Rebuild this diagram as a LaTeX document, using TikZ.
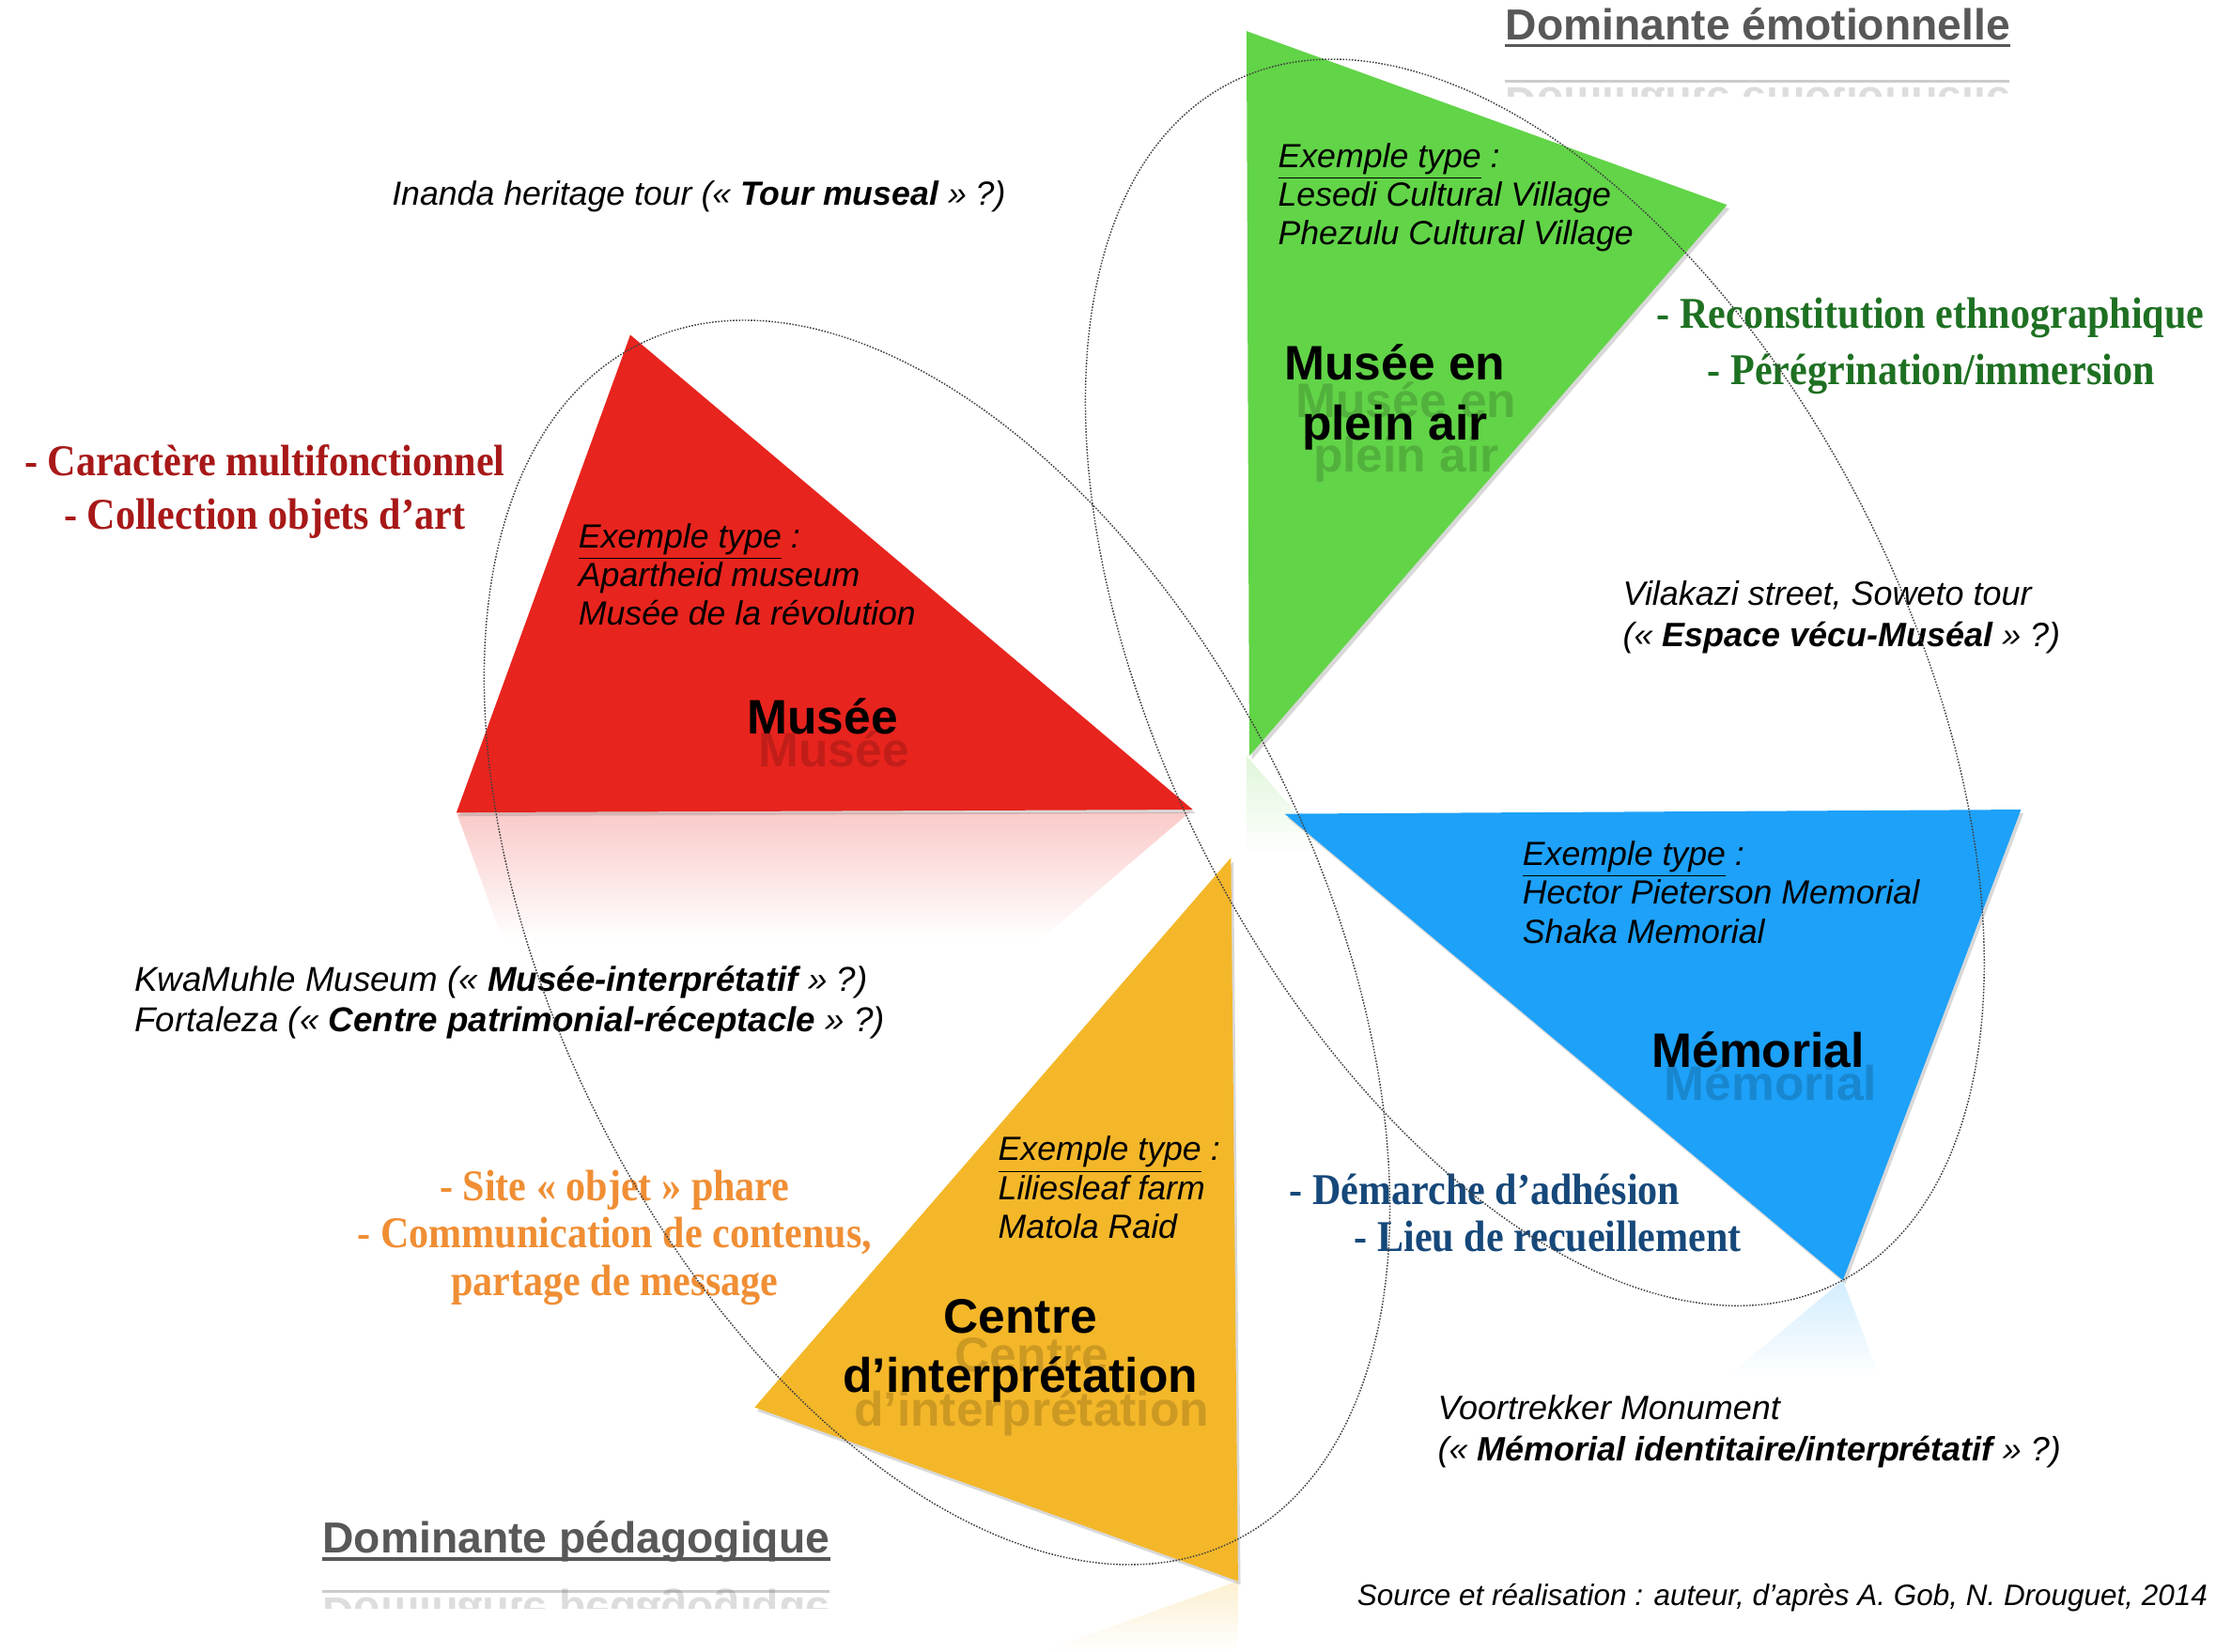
\documentclass[tikz,border=0pt]{standalone}
\usepackage{fontspec}
\setmainfont{Liberation Sans}
\newfontfamily\notefont[FakeStretch=0.9]{Liberation Serif}
\usetikzlibrary{shadows}

\definecolor{vertmus}{RGB}{98,212,72}
\definecolor{rougemus}{RGB}{232,36,30}
\definecolor{bleumus}{RGB}{29,161,249}
\definecolor{jaunemus}{RGB}{244,183,41}
\definecolor{rougetxt}{RGB}{168,24,24}
\definecolor{verttxt}{RGB}{30,112,34}
\definecolor{bleutxt}{RGB}{22,72,122}
\definecolor{orangetxt}{RGB}{240,142,52}
\definecolor{gristxt}{RGB}{88,88,88}

\tikzset{
  exemple/.style={font=\fontsize{13.5}{15.6}\selectfont\itshape, align=left, anchor=north west, inner sep=0pt},
  hybride/.style={font=\fontsize{13.6}{16.5}\selectfont\itshape, align=left, anchor=north west, inner sep=0pt},
  titre/.style={font=\fontsize{19.5}{24}\selectfont\bfseries, align=center, inner sep=0pt},
  ombre/.style={titre, opacity=0.16},
  note/.style={font=\notefont\bfseries\fontsize{17.7}{19}\selectfont, anchor=west, inner sep=0pt},
  dominante/.style={font=\fontsize{17.5}{20}\selectfont\bfseries, text=gristxt, anchor=base west, inner sep=0pt},
  triangle/.style={drop shadow={opacity=0.3, shadow xshift=1pt, shadow yshift=-1.5pt}},
  groupe/.style={line width=0.55pt, black!75, dash pattern=on 0.6pt off 0.6pt},
}

\begin{document}
\begin{tikzpicture}[x=0.02cm, y=-0.02cm]
\useasboundingbox[fill=white] (0,0) rectangle (1568,1169);

% reflets des triangles
\begin{scope}
  \clip (323,575) -- (446,913) -- (844,573) -- cycle;
  \shade[top color=rougemus!24, bottom color=white] (300,575) rectangle (860,665);
\end{scope}
\begin{scope}
  \clip (882,535) -- (1222,925) -- (882,1048) -- cycle;
  \shade[top color=vertmus!20, bottom color=white] (870,535) rectangle (1000,605);
\end{scope}
\begin{scope}
  \clip (1304,906) -- (909,1236) -- (1430,1239) -- cycle;
  \shade[top color=bleumus!20, bottom color=white] (1150,906) rectangle (1450,975);
\end{scope}
\begin{scope}
  \clip (876,1119) -- (534,1242) -- (874,1631) -- cycle;
  \shade[top color=jaunemus!22, bottom color=white] (700,1119) rectangle (880,1169);
\end{scope}

% les quatre triangles
\fill[vertmus, triangle] (882,22) -- (1222,145) -- (884,535) -- cycle;
\fill[rougemus, triangle] (323,575) -- (446,237) -- (844,573) -- cycle;
\fill[bleumus, triangle] (909,576) -- (1430,573) -- (1304,906) -- cycle;
\fill[jaunemus, triangle] (871,607) -- (876,1119) -- (534,996) -- cycle;

% titres et leurs ombres
\node[ombre] at (995,283) {Musée en};
\node[ombre] at (995,325) {plein air};
\node[ombre] at (590,530) {Musée};
\node[ombre] at (1253,766) {Mémorial};
\node[ombre] at (730,959) {Centre};
\node[ombre] at (730,1000) {d’interprétation};
\node[titre] (pleinair) at (987,281) {Musée en\\plein air};
\node[titre] (musee) at (582,507) {Musée};
\node[titre] (memorial) at (1244,743) {Mémorial};
\node[titre] (centre) at (722,956) {Centre\\d’interprétation};

% exemples types
\node[exemple] (expleinair) at (904,101) {\underline{Exemple type} :\\Lesedi Cultural Village\\Phezulu Cultural Village};
\node[exemple] (exmusee) at (409,370) {\underline{Exemple type} :\\Apartheid museum\\Musée de la révolution};
\node[exemple] (exmemorial) at (1077,595) {\underline{Exemple type} :\\Hector Pieterson Memorial\\Shaka Memorial};
\node[exemple] (excentre) at (706,804) {\underline{Exemple type} :\\Liliesleaf farm\\Matola Raid};

% formes hybrides
\node[hybride, anchor=west, font=\fontsize{13.5}{16.5}\selectfont\itshape] (inanda) at (277,139) {Inanda heritage tour (« \textbf{Tour museal} » ?)};
\node[hybride] (vilakazi) at (1148,411) {Vilakazi street, Soweto tour\\(« \textbf{Espace vécu-Muséal} » ?)};
\node[hybride, font=\fontsize{13.9}{16.5}\selectfont\itshape] (kwamuhle) at (95,683) {KwaMuhle Museum (« \textbf{Musée-interprétatif} » ?)\\Fortaleza (« \textbf{Centre patrimonial-réceptacle} » ?)};
\node[hybride] (voortrekker) at (1017,987) {Voortrekker Monument\\(« \textbf{Mémorial identitaire/interprétatif} » ?)};

% caracteristiques
\node[note, text=rougetxt] (multi) at (17,326) {- Caractère multifonctionnel};
\node[note, text=rougetxt] (collection) at (45,367) {- Collection objets d’art};
\node[note, text=verttxt] (reconst) at (1172,225) {- Reconstitution ethnographique};
\node[note, text=verttxt] (peregr) at (1208,265) {- Pérégrination/immersion};
\node[note, text=bleutxt] (adhesion) at (912,842) {- Démarche d’adhésion};
\node[note, text=bleutxt] (recueil) at (958,875) {- Lieu de recueillement};
\node[note, anchor=center, align=center, text=orangetxt] (phare) at (435,876)
  {- Site « objet » phare\\- Communication de contenus,\\partage de message};

% dominantes
\node[dominante] (domemo) at (1065,28) {Dominante émotionnelle};
\draw[gristxt, line width=1.2pt] ([yshift=-2.5pt]domemo.base west) -- ([yshift=-2.5pt]domemo.base east);
\node[dominante] (dompeda) at (228,1099) {Dominante pédagogique};
\draw[gristxt, line width=1.2pt] ([yshift=-2.5pt]dompeda.base west) -- ([yshift=-2.5pt]dompeda.base east);
\begin{scope}
  \clip (1060,54) rectangle (1430,68);
  \begin{scope}[shift={(0,90)}, yscale=-1]
    \node[dominante, opacity=0.2, transform shape] at (1065,28) {Dominante émotionnelle};
    \draw[gristxt, opacity=0.3, line width=1.2pt] (1065,32.5) -- (1422,32.5);
  \end{scope}
\end{scope}
\begin{scope}
  \clip (220,1124) rectangle (595,1138);
  \begin{scope}[shift={(0,2230)}, yscale=-1]
    \node[dominante, opacity=0.2, transform shape] at (228,1099) {Dominante pédagogique};
    \draw[gristxt, opacity=0.3, line width=1.2pt] (228,1103.5) -- (587,1103.5);
  \end{scope}
\end{scope}

% source
\node[font=\fontsize{11.9}{13}\selectfont\itshape, anchor=west, inner sep=0pt] (source) at (960,1131)
  {Source et réalisation : auteur, d’après A. Gob, N. Drouguet, 2014};

% ellipses de regroupement
\draw[groupe, rotate around={26.4:(663,667)}] (663,667) ellipse [x radius=5.4cm, y radius=9.46cm];
\draw[groupe, rotate around={26.8:(1086,483)}] (1086,483) ellipse [x radius=5.26cm, y radius=9.52cm];
\end{tikzpicture}
\end{document}
